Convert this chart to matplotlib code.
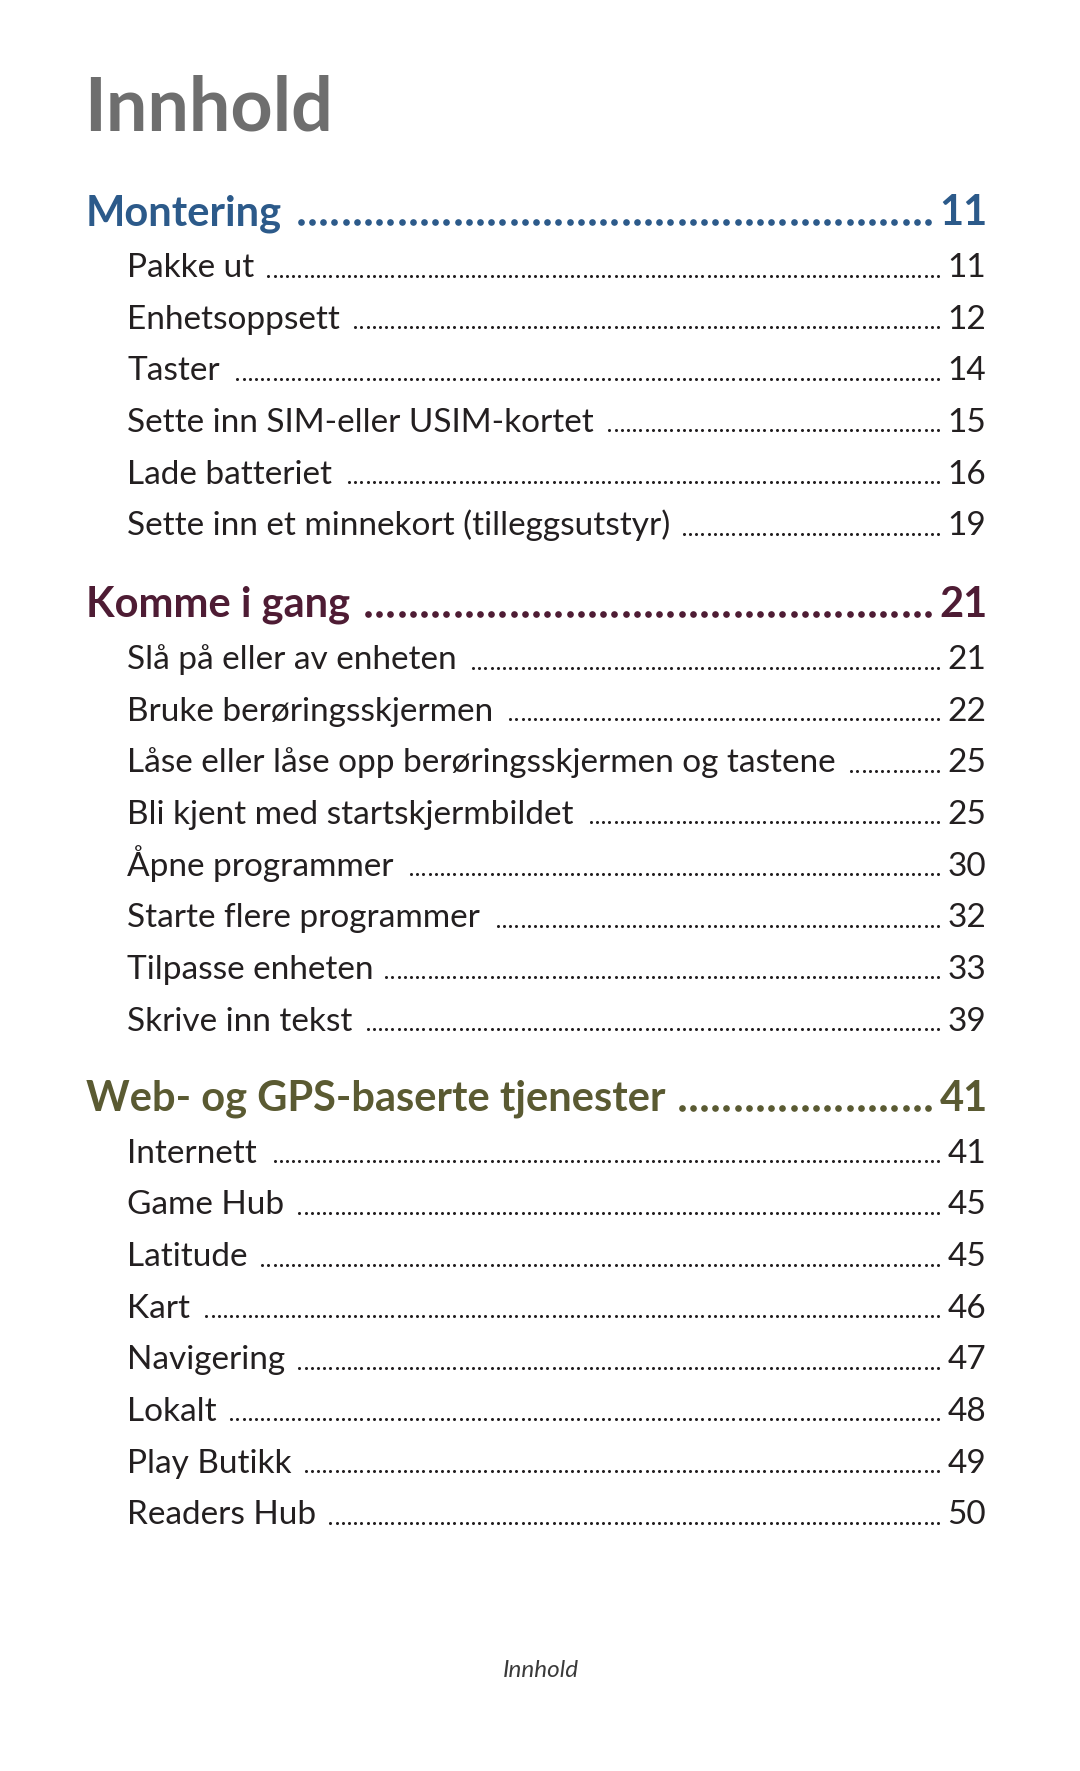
import numpy as np
import matplotlib.pyplot as plt

W, H = 1080, 1771

# table of contents data
section_titles = ["Montering", "Komme i gang", "Web- og GPS-baserte tjenester"]
section_pages = [11, 21, 41]
section_colors = ["#2c5a8a", "#4e1c34", "#5a5a32"]

montering_items = ["Pakke ut", "Enhetsoppsett", "Taster",
                   "Sette inn SIM-eller USIM-kortet", "Lade batteriet",
                   "Sette inn et minnekort (tilleggsutstyr)"]
montering_pages = [11, 12, 14, 15, 16, 19]

komme_items = ["Slå på eller av enheten", "Bruke berøringsskjermen",
               "Låse eller låse opp berøringsskjermen og tastene",
               "Bli kjent med startskjermbildet", "Åpne programmer",
               "Starte flere programmer", "Tilpasse enheten", "Skrive inn tekst"]
komme_pages = [21, 22, 25, 25, 30, 32, 33, 39]

web_items = ["Internett", "Game Hub", "Latitude", "Kart", "Navigering",
             "Lokalt", "Play Butikk", "Readers Hub"]
web_pages = [41, 45, 45, 46, 47, 48, 49, 50]

section_items = [montering_items, komme_items, web_items]
section_item_pages = [montering_pages, komme_pages, web_pages]

FONT = "Lato"

fig = plt.figure(figsize=(W / 100, H / 100), dpi=100)
ax = fig.add_axes([0, 0, 1, 1])
ax.set_xlim(0, W)
ax.set_ylim(H, 0)
ax.axis('off')

ax.text(84, 130, "Innhold", fontsize=53, fontweight='bold', color="#6e6e6e",
        family=FONT, va='baseline', ha='left')

header_y = [225, 617, 1110.7]
row_gap = 51.65
left_head, left_item = 86, 127
right_num = 986

leaders = []  # (text artist, baseline, end x, spacing, size, colour, gap, lift)

for title, page, col, items, pages, hy in zip(section_titles, section_pages,
                                              section_colors, section_items,
                                              section_item_pages, header_y):
    t = ax.text(left_head, hy, title, fontsize=30, fontweight='bold', color=col,
                family=FONT, va='baseline', ha='left')
    ax.text(right_num + 2, hy, str(page), fontsize=30, fontweight='bold',
            color=col, family=FONT, va='baseline', ha='right')
    leaders.append((t, hy, 928, 11.2, 4.8, col, 13, 3.2))
    for i, (name, pg) in enumerate(zip(items, pages)):
        y = hy + 52 + i * row_gap
        t = ax.text(left_item, y, name, fontsize=24, color="#231f20",
                    family=FONT, va='baseline', ha='left')
        ax.text(right_num, y, str(pg), fontsize=24, color="#231f20",
                family=FONT, va='baseline', ha='right')
        leaders.append((t, y, 938, 6.2, 2.2, "#231f20", 12, 1.5))

ax.text(541, 1677, "Innhold", fontsize=17.5, style='italic',
        color="#3a3a3a", family=FONT, va='baseline', ha='center')

# dot leaders: from the end of each title to the page number
fig.canvas.draw()
r = fig.canvas.get_renderer()
inv = ax.transData.inverted()
for t, y, xend, step, ms, col, gap, lift in leaders:
    bb = t.get_window_extent(renderer=r)
    x0 = inv.transform((bb.x1, bb.y0))[0] + gap
    n = int((xend - x0) // step) + 1
    xs = xend - np.arange(n) * step
    ax.plot(xs, np.full(n, y - lift), 'o', ms=ms, color=col, mew=0)

fig.savefig("out.png", dpi=100)
